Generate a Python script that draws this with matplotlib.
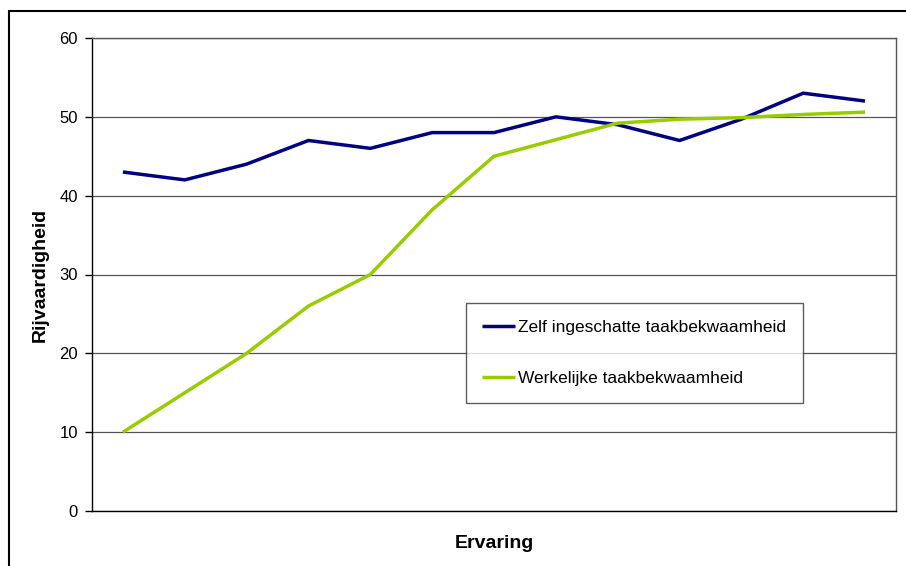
import matplotlib.pyplot as plt
from matplotlib.patches import Rectangle

plt.rcParams['font.family'] = ['Liberation Sans', 'DejaVu Sans']

# Data (13 experience steps, no tick labels)
steps = list(range(1, 14))
zelf = [43, 42, 44, 47, 46, 48, 48, 50, 49, 47, 49.7, 53, 52]
werkelijk = [10, 15, 20, 26, 30, 38.2, 45, 47.1, 49.2, 49.7, 49.9, 50.3, 50.6]
y_ticks = [0, 10, 20, 30, 40, 50, 60]

fig = plt.figure(figsize=(9.06, 5.66), dpi=100)
ax = fig.add_axes([92 / 906, 1 - 511 / 566, (896 - 92) / 906, (511 - 38) / 566])

ax.plot(steps, zelf, color='#000080', lw=2.5, label='Zelf ingeschatte taakbekwaamheid',
        solid_capstyle='butt')
ax.plot(steps, werkelijk, color='#99CC00', lw=2.5, label='Werkelijke taakbekwaamheid',
        solid_capstyle='butt')

ax.set_xlim(0.5, 13.5)
ax.set_ylim(0, 60)
ax.set_yticks(y_ticks)
ax.set_xticks([])
ax.yaxis.grid(True, color='#555555', lw=0.9)
ax.set_axisbelow(True)
ax.tick_params(axis='y', labelsize=12, length=5, width=1, direction='out', pad=5)

for side in ['top', 'right']:
    ax.spines[side].set_color('#555555')
    ax.spines[side].set_linewidth(1)
for side in ['left', 'bottom']:
    ax.spines[side].set_color('black')
    ax.spines[side].set_linewidth(1)

ax.set_ylabel('Rijvaardigheid', fontsize=14, fontweight='bold', va='center')
ax.yaxis.set_label_coords((40 - 92) / 804, 0.5)
ax.set_xlabel('Ervaring', fontsize=14, fontweight='bold', va='center')
ax.xaxis.set_label_coords(0.5, (511 - 543) / 473)

leg = ax.legend(loc='upper left', bbox_to_anchor=((466 - 92) / 804, (511 - 303) / 473),
                fontsize=12.5, frameon=True, fancybox=False, edgecolor='#333333',
                handlelength=1.85, handletextpad=0.2, labelspacing=2.1,
                borderpad=0.95, borderaxespad=0)
leg.get_frame().set_linewidth(1)

# outer chart frame (cut off at right and bottom in the reference)
fig.patches.append(Rectangle((9 / 906, -0.1), 1.2, 1 - 11 / 566 + 0.1,
                             transform=fig.transFigure, fill=False,
                             edgecolor='black', lw=1.5))

fig.savefig('out.png', dpi=100)
